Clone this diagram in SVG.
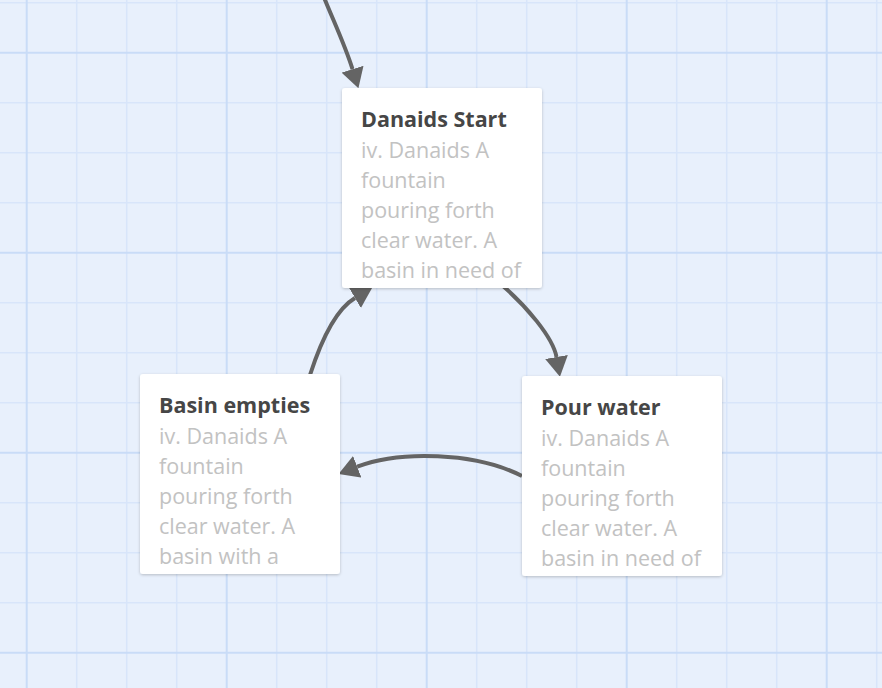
<svg xmlns="http://www.w3.org/2000/svg" width="882" height="688" viewBox="0 0 882 688">
<defs>
<style>
.minor{stroke:#d8e5fa;stroke-width:1.5;fill:none}
.major{stroke:#c9dcf7;stroke-width:2;fill:none}
.edge{stroke:#646464;stroke-width:4;fill:none}
.card{fill:#ffffff;filter:url(#shadow)}
.title{font-family:"Open Sans","Noto Sans",sans-serif;font-size:21.5px;font-weight:700;fill:#464646}
.body{font-family:"Open Sans","Noto Sans",sans-serif;font-size:21.5px;fill:#c2c2c2}
</style>
<filter id="shadow" x="-10%" y="-10%" width="120%" height="120%">
<feDropShadow dx="0" dy="1" stdDeviation="1.5" flood-color="#000" flood-opacity="0.22"/>
</filter>
<marker id="arrow" markerUnits="userSpaceOnUse" markerWidth="20" markerHeight="23" viewBox="0 0 20 23" refX="0" refY="11.5" orient="auto">
<path d="M0,0 L20,11.5 L0,23 Z" fill="#646464"/>
</marker>
</defs>
<rect width="882" height="688" fill="#e8f0fc"/>
<g id="grid">
<path class="minor" d="M76.7 0V688M126.7 0V688M176.7 0V688M276.7 0V688M326.7 0V688M376.7 0V688M476.7 0V688M526.7 0V688M576.7 0V688M676.7 0V688M726.7 0V688M776.7 0V688M876.7 0V688M0 2.7H882M0 102.7H882M0 152.7H882M0 202.7H882M0 302.7H882M0 352.7H882M0 402.7H882M0 502.7H882M0 552.7H882M0 602.7H882"/>
<path class="major" d="M26.7 0V688M226.7 0V688M426.7 0V688M626.7 0V688M826.7 0V688M0 52.7H882M0 252.7H882M0 452.7H882M0 652.7H882"/>
</g>
<g id="connectors">
<path class="edge" marker-end="url(#arrow)" d="M323 -5 C333 20, 345 45, 352.5 69.2"/>
<path class="edge" marker-end="url(#arrow)" d="M503 286 C525 305, 553 337, 556.5 357"/>
<path class="edge" marker-end="url(#arrow)" d="M522 476 C475 452, 399.3 450.5, 357.2 466.7"/>
<path class="edge" marker-end="url(#arrow)" d="M310 375 C319.5 345.5, 333.5 310.75, 355 298"/>
</g>
<g id="node-danaids-start">
<rect class="card" x="342" y="88" width="200" height="200" rx="3"/>
<text class="title" x="361" y="127">Danaids Start</text>
<text class="body" x="361" y="157.5">iv. Danaids A</text>
<text class="body" x="361" y="187.5">fountain</text>
<text class="body" x="361" y="217.5">pouring forth</text>
<text class="body" x="361" y="247.5">clear water. A</text>
<text class="body" x="361" y="277.5">basin in need of</text>
</g>
<g id="node-basin-empties">
<rect class="card" x="140" y="374" width="200" height="200" rx="3"/>
<text class="title" x="159" y="413">Basin empties</text>
<text class="body" x="159" y="443.5">iv. Danaids A</text>
<text class="body" x="159" y="473.5">fountain</text>
<text class="body" x="159" y="503.5">pouring forth</text>
<text class="body" x="159" y="533.5">clear water. A</text>
<text class="body" x="159" y="563.5">basin with a</text>
</g>
<g id="node-pour-water">
<rect class="card" x="522" y="376" width="200" height="200" rx="3"/>
<text class="title" x="541" y="415">Pour water</text>
<text class="body" x="541" y="445.5">iv. Danaids A</text>
<text class="body" x="541" y="475.5">fountain</text>
<text class="body" x="541" y="505.5">pouring forth</text>
<text class="body" x="541" y="535.5">clear water. A</text>
<text class="body" x="541" y="565.5">basin in need of</text>
</g>
</svg>
